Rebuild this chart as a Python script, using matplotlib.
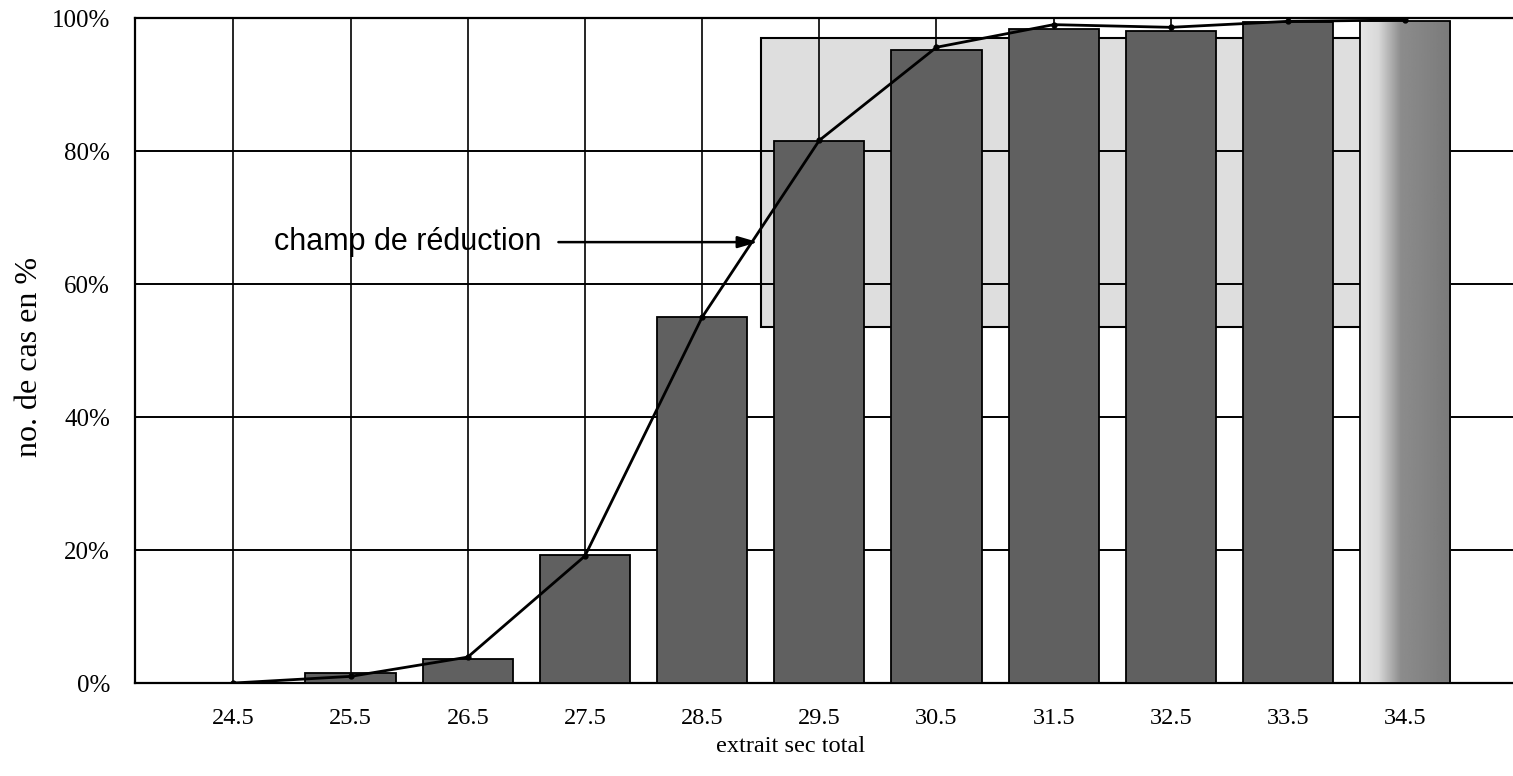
import numpy as np
import matplotlib
matplotlib.use("Agg")
import matplotlib.pyplot as plt

# extrait sec total classes and cumulative share of cases (%)
classes = [24.5, 25.5, 26.5, 27.5, 28.5, 29.5, 30.5, 31.5, 32.5, 33.5, 34.5]
bar_pct = [0.0, 1.5, 3.6, 19.2, 55.0, 81.5, 95.2, 98.3, 98.0, 99.4, 99.6]
line_pct = [0.0, 1.0, 3.9, 19.1, 55.0, 81.6, 95.6, 99.0, 98.6, 99.5, 99.7]

# "champ de réduction" field (extrait sec range, % range)
champ_x = (29.0, 34.25)
champ_y = (53.5, 97.0)
arrow_y = 66.3

y_ticks = [0, 20, 40, 60, 80, 100]
y_labels = ["0%", "20%", "40%", "60%", "80%", "100%"]

SERIF = ["Liberation Serif", "DejaVu Serif"]
SANS = ["Liberation Sans", "DejaVu Sans"]

fig = plt.figure(figsize=(15.13, 7.76), dpi=100)
ax = fig.add_axes([0.0892, 0.1198, 0.9108, 0.857])

# light reduction field (behind the grid)
ax.bar((champ_x[0] + champ_x[1]) / 2, champ_y[1] - champ_y[0], bottom=champ_y[0],
       width=champ_x[1] - champ_x[0], color="#dedede", edgecolor="black",
       linewidth=1.5, zorder=1)

# grid
for y in y_ticks[1:-1]:
    ax.axhline(y, color="black", lw=1.4, zorder=2)
for x in classes:
    ax.axvline(x, color="black", lw=1.2, zorder=2)

# dark bars (last one is drawn with a light-to-dark gradient)
bars = ax.bar(classes, bar_pct, width=0.77, color="#606060", edgecolor="black",
              linewidth=1.3, zorder=3)
last = bars[-1]
last.set_facecolor("none")
g = np.linspace(0, 1, 200)
g = np.interp(g, [0, 0.2, 0.45, 1.0], [0.90, 0.85, 0.55, 0.48])
img = ax.imshow(np.tile(g, (2, 1)), cmap="gray", vmin=0, vmax=1, aspect="auto",
                extent=(last.get_x(), last.get_x() + last.get_width(), 0, last.get_height()),
                zorder=2.9, interpolation="bilinear")
img.set_clip_path(last)
ax.set_xlim(23.66, 35.42)
ax.set_ylim(0, 100)

# cumulative line
ax.plot(classes, line_pct, color="black", lw=2.0, marker="o", ms=3.5, zorder=5)

# annotation
ax.annotate("", xy=(champ_x[0], arrow_y), xytext=(27.25, arrow_y),
            arrowprops=dict(arrowstyle="-|>,head_length=1.2,head_width=0.35",
                            color="black", lw=1.8), zorder=6)
ax.text(27.2, arrow_y, "champ de réduction ", ha="right", va="center",
        fontsize=22, family=SANS, zorder=6)

# axes styling
ax.spines["right"].set_visible(False)
for side in ("left", "bottom", "top"):
    ax.spines[side].set_linewidth(1.6)
ax.set_yticks(y_ticks)
ax.set_yticklabels(y_labels, family=SERIF, fontsize=18)
ax.set_xticks(classes)
ax.set_xticklabels([f"{c:.1f}" for c in classes], family=SERIF, fontsize=17.5)
ax.tick_params(axis="y", length=0, pad=18)
ax.tick_params(axis="x", length=0, pad=18)

ax.set_xlabel("extrait sec total", family=SERIF, fontsize=17.5)
ax.xaxis.set_label_coords(0.476, -0.08)
ax.set_ylabel("no. de cas en %", family=SERIF, fontsize=23)
ax.yaxis.set_label_coords(-0.066, 0.49)

fig.savefig("out.png", dpi=100)
